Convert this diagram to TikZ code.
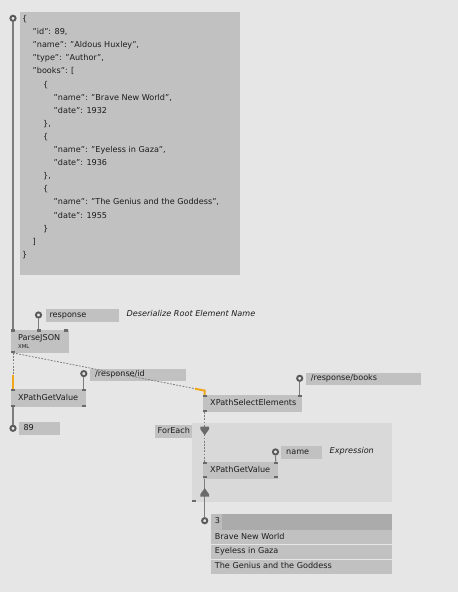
\documentclass[tikz,border=0pt]{standalone}
\usepackage{fontspec}
\setmainfont{DejaVu Sans}
\definecolor{bgc}{HTML}{E6E6E6}
\definecolor{boxc}{HTML}{C1C1C1}
\definecolor{regc}{HTML}{D9D9D9}
\definecolor{row1c}{HTML}{ABABAB}
\definecolor{cellc}{HTML}{BCBCBC}
\definecolor{textc}{HTML}{1C1C1C}
\definecolor{wirec}{HTML}{7C7C7C}
\definecolor{markc}{HTML}{6A6A6A}
\definecolor{ringc}{HTML}{5A5A5A}
\definecolor{orangec}{HTML}{F0A818}
\tikzset{
  box/.style={fill=boxc, draw=none, inner sep=0pt, anchor=north west},
  txt/.style={font=\fontsize{8.1}{10}\selectfont, text=textc, inner sep=0pt, text height=5.9pt, text depth=1.7pt, anchor=west},
  itxt/.style={txt, font=\fontsize{8.1}{10}\selectfont\itshape},
  jtxt/.style={font=\fontsize{8.1}{10}\selectfont, text=textc, inner sep=0pt, anchor=base west},
  pin/.style={circle, draw=ringc, fill=bgc, line width=1.9pt, minimum size=5.2pt, inner sep=0pt},
  pmark/.style={fill=markc, inner sep=0pt, minimum width=4pt, minimum height=2.2pt, draw=none},
  wire/.style={draw=wirec, line width=1.2pt},
  dwire/.style={draw=wirec, line width=0.8pt, dash pattern=on 1.8pt off 1.4pt},
  owire/.style={draw=orangec, line width=2pt},
}
\begin{document}
\begin{tikzpicture}[x=1pt, y=-1pt]
\fill[bgc] (0,0) rectangle (458,592);
\useasboundingbox (0,0) rectangle (458,592);

% JSON box
\node[box, minimum width=220.7pt, minimum height=263.3pt] (json) at (19.3,11.7) {};
\node[pin] (jpin) at (13,18.3) {};
\node[jtxt] (j1) at (22,21.5) {\{};
\node[jtxt] (j2) at (32.5,34.6) {"id": 89,};
\node[jtxt] (j3) at (32.5,47.7) {"name": "Aldous Huxley",};
\node[jtxt] (j4) at (32.5,60.8) {"type": "Author",};
\node[jtxt] (j5) at (32.5,73.9) {"books": [};
\node[jtxt] (j6) at (43,87.0) {\{};
\node[jtxt] (j7) at (53.5,100.1) {"name": "Brave New World",};
\node[jtxt] (j8) at (53.5,113.2) {"date": 1932};
\node[jtxt] (j9) at (43,126.3) {\},};
\node[jtxt] (j10) at (43,139.4) {\{};
\node[jtxt] (j11) at (53.5,152.5) {"name": "Eyeless in Gaza",};
\node[jtxt] (j12) at (53.5,165.6) {"date": 1936};
\node[jtxt] (j13) at (43,178.7) {\},};
\node[jtxt] (j14) at (43,191.8) {\{};
\node[jtxt] (j15) at (53.5,204.9) {"name": "The Genius and the Goddess",};
\node[jtxt] (j16) at (53.5,218.0) {"date": 1955};
\node[jtxt] (j17) at (43,231.1) {\}};
\node[jtxt] (j18) at (32.5,244.2) {]};
\node[jtxt] (j19) at (22,257.3) {\}};

% response input
\node[box, minimum width=73.3pt, minimum height=12.7pt] (resp) at (45.7,309) {};
\node[txt] (resp-t) at (49.3,315.35) {response};
\node[pin] (rpin) at (38.5,315) {};
\node[itxt] (deser) at (126.5,314.5) {Deserialize Root Element Name};

% ParseJSON
\node[box, minimum width=57.3pt, minimum height=23.4pt] (parse) at (11,329.3) {};
\node[jtxt] (parse-t) at (18,340.2) {ParseJSON};
\node[jtxt, font=\fontsize{5.3}{6}\selectfont] (parse-x) at (18,348.3) {XML};
\node[pmark] (parse-tl) at (13,330.4) {};
\node[pmark] (parse-tm) at (38.5,330.4) {};
\node[pmark] (parse-tr) at (66.3,330.4) {};
\node[pmark] (parse-bl) at (13,351.6) {};

% /response/id
\node[box, minimum width=96.7pt, minimum height=12.4pt] (idbox) at (89.3,368.3) {};
\node[txt] (idbox-t) at (95,374.5) {/response/id};
\node[pin] (idpin) at (83.8,373.6) {};

% XPathGetValue (left)
\node[box, minimum width=75pt, minimum height=17.7pt] (xgv1) at (11,389) {};
\node[txt] (xgv1-t) at (18,397.9) {XPathGetValue};
\node[pmark] (xgv1-tl) at (13,390.1) {};
\node[pmark] (xgv1-tr) at (83.8,390.1) {};
\node[pmark] (xgv1-bl) at (13,405.6) {};
\node[pmark] (xgv1-br) at (83.8,405.6) {};

% 89 output
\node[box, minimum width=41pt, minimum height=13pt] (v89) at (19,422) {};
\node[txt] (v89-t) at (23.3,428.5) {89};
\node[pin] (pin89) at (13,428.3) {};

% /response/books
\node[box, minimum width=115pt, minimum height=12.7pt] (books) at (306,372.3) {};
\node[txt] (books-t) at (310.7,378.65) {/response/books};
\node[pin] (bpin) at (299.7,378.3) {};

% XPathSelectElements
\node[box, minimum width=99pt, minimum height=16.7pt] (xse) at (202.7,395) {};
\node[txt] (xse-t) at (210,403.4) {XPathSelectElements};
\node[pmark] (xse-tl) at (204.7,396.1) {};
\node[pmark] (xse-tr) at (299.7,396.1) {};
\node[pmark] (xse-bl) at (204.7,410.6) {};

% ForEach region
\node[fill=regc, inner sep=0pt, anchor=north west, minimum width=200pt, minimum height=78.7pt] (region) at (192,423) {};
\node[box, minimum width=37pt, minimum height=12.7pt] (foreach) at (155,425) {};
\node[txt] (foreach-t) at (157.5,431.35) {ForEach};
\node[pmark] (region-bl) at (194,500.7) {};

% name input
\node[box, minimum width=40.7pt, minimum height=13pt] (namebox) at (281,446) {};
\node[txt] (namebox-t) at (286,452.5) {name};
\node[pin] (npin) at (275.5,451.9) {};
\node[itxt] (expr) at (329.5,451.5) {Expression};

% XPathGetValue (inner)
\node[box, minimum width=75pt, minimum height=16.6pt] (xgv2) at (202.7,461.7) {};
\node[txt] (xgv2-t) at (210,470) {XPathGetValue};
\node[pmark] (xgv2-tl) at (204.7,462.8) {};
\node[pmark] (xgv2-tr) at (275.7,462.8) {};
\node[pmark] (xgv2-bl) at (204.7,477.2) {};
\node[pmark] (xgv2-br) at (275.7,477.2) {};

% output table
\node[pin] (opin) at (204.7,520.7) {};
\node[fill=row1c, inner sep=0pt, anchor=north west, minimum width=181pt, minimum height=15.3pt] (row1) at (211,514) {};
\node[fill=cellc, inner sep=0pt, anchor=north west, minimum width=10.7pt, minimum height=15.3pt] (cell3) at (211,514) {};
\node[txt] (cell3-t) at (214.7,521.6) {3};
\node[box, minimum width=181pt, minimum height=13.9pt] (row2) at (211,530) {};
\node[txt] (row2-t) at (214.7,537) {Brave New World};
\node[box, minimum width=181pt, minimum height=13.9pt] (row3) at (211,544.7) {};
\node[txt] (row3-t) at (214.7,551.7) {Eyeless in Gaza};
\node[box, minimum width=181pt, minimum height=13.9pt] (row4) at (211,559.4) {};
\node[txt] (row4-t) at (214.7,566.4) {The Genius and the Goddess};

% wires
\draw[wire] (jpin) -- (parse-tl);
\draw[wire] (rpin) -- (parse-tm);
\draw[wire] (idpin) -- (xgv1-tr);
\draw[wire] (xgv1-bl) -- (pin89);
\draw[wire] (bpin) -- (xse-tr);
\draw[wire] (npin) -- (xgv2-tr);
\draw[wire] (xgv2-bl) -- (opin);

\coordinate (o1) at (13,375);
\coordinate (bend1) at (204.7,390.6);
\coordinate (o2) at (195,388.7);
\draw[dwire] (parse-bl) -- (xgv1-tl);
\draw[owire] (o1) -- (xgv1-tl.north);
\draw[dwire] (parse-bl.south) -- (bend1) -- (xse-tl);
\draw[owire, line join=miter] (o2) -- (bend1) -- (xse-tl.north);
\draw[dwire] (xse-bl) -- (xgv2-tl);

% flow triangles
\fill[markc] (200.4,426.7) -- (209,426.7) -- (209,429.3) -- (204.7,435.3) -- (200.4,429.3) -- cycle;
\fill[markc] (200.4,496.7) -- (209,496.7) -- (209,494.1) -- (204.7,488.1) -- (200.4,494.1) -- cycle;
\end{tikzpicture}
\end{document}
